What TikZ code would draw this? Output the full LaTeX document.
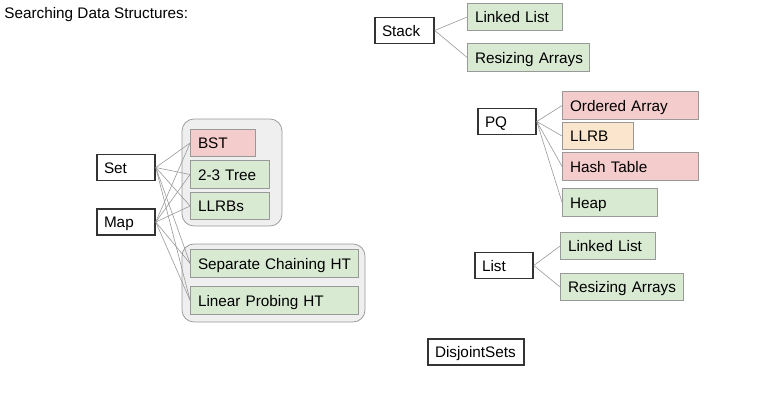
\documentclass[tikz,border=0pt]{standalone}
\usepackage{fontspec}
\setmainfont{Liberation Sans}

\definecolor{cellgreen}{RGB}{217,234,211}
\definecolor{cellred}{RGB}{244,204,204}
\definecolor{cellorange}{RGB}{252,229,205}
\definecolor{groupfill}{RGB}{239,239,239}
\definecolor{edgegray}{RGB}{153,153,153}
\definecolor{inkdark}{RGB}{51,51,51}

\tikzset{every picture/.style={line width=0.75pt}}
\tikzset{
  adt/.style={draw=inkdark, line width=1.5pt, fill=white, inner xsep=7pt, inner ysep=0pt,
    minimum height=26pt, text height=11pt, text depth=0pt, align=left, text width=#1},
  impl/.style={draw=edgegray, inner xsep=7.5pt, inner ysep=0pt,
    minimum height=27.5pt, text height=11pt, text depth=0pt, align=left, text width=#1},
  group/.style={draw=edgegray, fill=groupfill, rounded corners=12pt},
  link/.style={draw=edgegray, line width=0.6pt}
}

\begin{document}
\begin{tikzpicture}[x=1pt,y=1pt,yscale=-1,xscale=1,font=\fontsize{15.3pt}{18pt}\selectfont]
\useasboundingbox (0,0) rectangle (757,402);

%Shape: Rounded Rect (trees)
\draw [group] (182,119) rectangle (282,226) ;
%Shape: Rounded Rect (hash tables)
\draw [group] (182,244) rectangle (365,322) ;

% Text Node
\node [anchor=west, inner sep=0pt] (title) at (4,15) {Searching Data Structures:};

% Stack
\node [adt=45pt] (stack) at (404.5,30.5) {Stack};
\node [impl=80pt, fill=cellgreen] (stackLL) at (515,17) {\mbox{Linked List}};
\node [impl=107pt, fill=cellgreen] (stackRA) at (528.5,57.5) {\mbox{Resizing Arrays}};

% Set and Map
\node [adt=44pt] (set) at (126,167.5) {Set};
\node [adt=44pt] (map) at (126,222) {Map};
\node [impl=50pt, fill=cellred] (bst) at (223,143) {BST};
\node [impl=64pt, fill=cellgreen] (tree23) at (230,174.5) {\mbox{2-3 Tree}};
\node [impl=64pt, fill=cellgreen] (llrbs) at (230,206) {LLRBs};
\node [impl=153pt, fill=cellgreen] (sepch) at (274.5,263.5) {\mbox{Separate Chaining HT}};
\node [impl=153pt, fill=cellgreen] (linpr) at (274.5,300.5) {\mbox{Linear Probing HT}};

% PQ
\node [adt=44pt] (pq) at (507,121.5) {PQ};
\node [impl=121pt, fill=cellred] (ordarr) at (630.5,105.5) {\mbox{Ordered Array}};
\node [impl=56pt, fill=cellorange] (llrb) at (598,136) {LLRB};
\node [impl=121pt, fill=cellred] (hasht) at (630.5,166.5) {\mbox{Hash Table}};
\node [impl=80pt, fill=cellgreen] (heap) at (610,202.5) {Heap};

% List
\node [adt=44pt] (list) at (504,265.5) {List};
\node [impl=80pt, fill=cellgreen] (listLL) at (608,246) {\mbox{Linked List}};
\node [impl=108pt, fill=cellgreen] (listRA) at (622,287) {\mbox{Resizing Arrays}};

% DisjointSets
\node [adt=82pt] (dsets) at (476,352) {DisjointSets};

%Straight Lines
\foreach \a in {stackLL,stackRA} \draw [link] (stack.east) -- (\a.west) ;
\foreach \p in {set,map}
  \foreach \a in {bst,tree23,llrbs,sepch,linpr} \draw [link] (\p.east) -- (\a.west) ;
\foreach \a in {ordarr,llrb,hasht,heap} \draw [link] (pq.east) -- (\a.west) ;
\foreach \a in {listLL,listRA} \draw [link] (list.east) -- (\a.west) ;

\end{tikzpicture}
\end{document}
